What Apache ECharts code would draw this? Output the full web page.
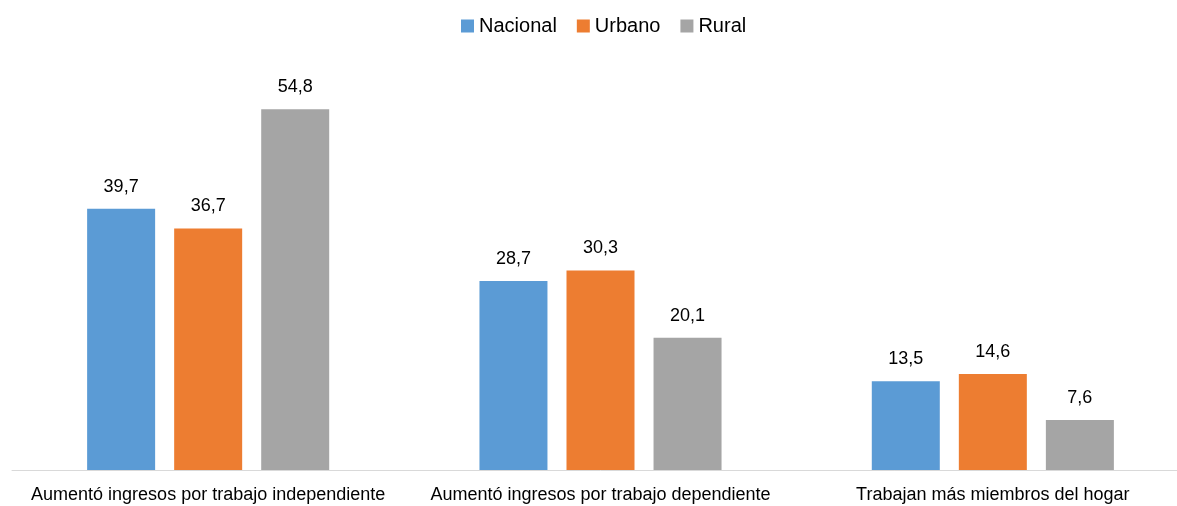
<!DOCTYPE html>
<html>
<head>
<meta charset="utf-8">
<script src="https://cdn.jsdelivr.net/npm/echarts@6/dist/echarts.min.js"></script>
<style>
  html, body { margin: 0; padding: 0; background: #fff; overflow: hidden; }
  #chart { width: 1200px; height: 506px; }
</style>
</head>
<body>
<div id="chart"></div>
<script>
// Categories and values per area (percent)
const categories = [
  'Aumentó ingresos por trabajo independiente',
  'Aumentó ingresos por trabajo dependiente',
  'Trabajan más miembros del hogar'
];
const seriesNames = ['Nacional', 'Urbano', 'Rural'];
const nacional = [39.7, 28.7, 13.5];
const urbano = [36.7, 30.3, 14.6];
const rural = [54.8, 20.1, 7.6];
const colors = ['#5B9BD5', '#ED7D31', '#A5A5A5'];

const fontFamily = '"Liberation Sans", Arial, sans-serif';
const fmt = v => v.toFixed(1).replace('.', ',');

function makeSeries(name, data, color) {
  return {
    name: name,
    type: 'bar',
    data: data,
    barWidth: 68,
    barGap: '28%',
    itemStyle: { color: color },
    label: {
      show: true,
      position: 'top',
      distance: 13,
      color: '#000',
      fontFamily: fontFamily,
      fontSize: 18,
      formatter: p => fmt(p.value)
    }
  };
}

// The plot area runs slightly past the right edge of the visible page
const chart = echarts.init(document.getElementById('chart'), null, { renderer: 'canvas' });
chart.setOption({
  animation: false,
  backgroundColor: '#fff',
  color: colors,
  legend: {
    data: seriesNames,
    top: 11,
    left: 456,
    itemWidth: 13,
    itemHeight: 13,
    itemGap: 20,
    icon: 'rect',
    textStyle: { fontFamily: fontFamily, fontSize: 20, color: '#000' }
  },
  grid: { left: 12, width: 1177, top: 75, bottom: 36, containLabel: false },
  xAxis: {
    type: 'category',
    data: categories,
    axisTick: { show: false },
    axisLine: { lineStyle: { color: '#D9D9D9', width: 1 } },
    axisLabel: {
      color: '#000',
      fontFamily: fontFamily,
      fontSize: 18,
      margin: 16,
      interval: 0
    }
  },
  yAxis: {
    type: 'value',
    min: 0,
    max: 60,
    show: false,
    splitLine: { show: false }
  },
  series: [
    makeSeries(seriesNames[0], nacional, colors[0]),
    makeSeries(seriesNames[1], urbano, colors[1]),
    makeSeries(seriesNames[2], rural, colors[2])
  ]
});
</script>
</body>
</html>
